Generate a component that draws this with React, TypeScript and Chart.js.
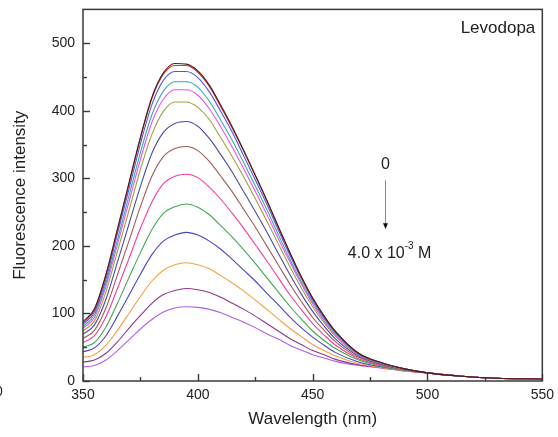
import React, { useEffect, useRef } from "react";
import { Chart, registerables } from "chart.js";

Chart.register(...registerables);

// ---- data ----
const WAVELENGTHS = [350, 355, 360, 365, 370, 375, 380, 385, 390, 395, 400, 405, 410, 415, 420, 425, 430, 435, 440, 445, 450, 455, 460, 470, 480, 490, 500, 515, 530, 550];

const C1 = [88, 107, 158, 225, 293, 361, 420, 456, 470, 469, 459, 438, 408, 376, 341, 305, 268, 229, 191, 155, 123, 96, 73, 41, 27, 18, 12, 7, 4, 3];
const C2 = [86, 105, 156, 223, 291, 359, 418, 454, 467, 467, 457, 436, 406, 374, 340, 304, 267, 228, 190, 154, 122, 96, 73, 41, 27, 18, 12, 7, 4, 3];
const C3 = [84, 102, 151, 218, 284, 351, 409, 445, 458, 458, 449, 428, 399, 368, 333, 298, 262, 224, 187, 152, 120, 94, 72, 40, 27, 18, 12, 7, 4, 3];
const C4 = [81, 98, 145, 209, 274, 338, 394, 429, 443, 443, 435, 414, 386, 356, 323, 289, 254, 217, 181, 147, 117, 92, 70, 40, 26, 18, 12, 7, 4, 3];
const C5 = [78, 94, 140, 202, 265, 328, 383, 417, 431, 431, 423, 403, 376, 346, 314, 281, 247, 211, 177, 144, 114, 89, 68, 39, 26, 18, 12, 7, 4, 3];
const C6 = [74, 89, 132, 192, 252, 313, 365, 399, 413, 413, 405, 387, 360, 332, 302, 270, 237, 203, 170, 138, 110, 86, 66, 38, 26, 17, 12, 7, 4, 3];
const C7 = [69, 83, 121, 176, 232, 288, 337, 368, 381, 384, 377, 359, 335, 309, 280, 251, 221, 189, 158, 129, 103, 81, 62, 37, 25, 17, 12, 7, 4, 3];
const C8 = [63, 75, 108, 157, 207, 258, 303, 332, 344, 347, 341, 325, 303, 280, 254, 228, 200, 172, 144, 118, 94, 75, 58, 35, 24, 17, 12, 7, 4, 3];
const C9 = [57, 67, 95, 137, 181, 226, 265, 292, 303, 306, 301, 287, 269, 248, 226, 202, 178, 153, 128, 106, 85, 68, 53, 33, 23, 17, 12, 7, 4, 3];
const C10 = [50, 57, 80, 115, 153, 190, 224, 248, 258, 262, 257, 246, 230, 213, 194, 174, 153, 132, 111, 92, 74, 60, 48, 31, 22, 16, 12, 7, 4, 3];
const C11 = [43, 49, 67, 96, 127, 158, 187, 207, 216, 220, 216, 207, 195, 180, 164, 148, 130, 113, 95, 79, 65, 53, 42, 28, 21, 16, 12, 7, 4, 3];
const C12 = [35, 39, 53, 75, 100, 125, 148, 164, 172, 175, 172, 166, 156, 145, 133, 120, 106, 92, 78, 66, 54, 45, 37, 26, 20, 15, 12, 7, 4, 3];
const C13 = [28, 31, 41, 58, 78, 97, 115, 128, 134, 137, 135, 131, 124, 115, 106, 96, 85, 74, 63, 54, 45, 39, 32, 24, 20, 15, 12, 7, 4, 3];
const C14 = [21, 23, 31, 45, 61, 77, 91, 102, 108, 110, 109, 106, 101, 94, 87, 79, 70, 62, 53, 46, 39, 34, 29, 23, 19, 15, 12, 7, 4, 3];

const SERIES = [C1, C2, C3, C4, C5, C6, C7, C8, C9, C10, C11, C12, C13, C14];
const SERIES_COLORS = [
  "#4a1c1c", "#e03030", "#4a5ae0", "#3aa8b0", "#f050f0", "#a0a040", "#4a4aa0",
  "#a05a5a", "#f0409a", "#40a850", "#4848c0", "#f5a040", "#8a3a8a", "#b060e8",
];

const X_MIN = 350;
const X_MAX = 550;
const X_STEP = 50;
const Y_MIN = 0;
const Y_MAX = 550;
const Y_STEP = 100;

const X_TITLE = "Wavelength (nm)";
const Y_TITLE = "Fluorescence intensity";
const SAMPLE_LABEL = "Levodopa";
const ARROW_START_LABEL = "0";
const ARROW_END_MAIN = "4.0 x 10";
const ARROW_END_SUP = "-3";
const ARROW_END_UNIT = " M";

const FONT = '"Liberation Sans", Arial, Helvetica, sans-serif';
const TEXT_COLOR = "#222";
const AXIS_COLOR = "#3a3a3a";

const CANVAS_W = 560;
const CANVAS_H = 444;
const CANVAS_SHIFT_Y = -7;

const decorPlugin = {
  id: "decor",
  afterDatasetsDraw(chart: any) {
    const { ctx, chartArea: a, scales } = chart;
    const xs = scales.x;
    const ys = scales.y;
    ctx.save();
    // frame
    ctx.strokeStyle = AXIS_COLOR;
    ctx.lineWidth = 1.5;
    ctx.strokeRect(a.left, a.top, a.right - a.left, a.bottom - a.top);
    // inward ticks
    ctx.lineWidth = 1.4;
    for (let v = X_MIN; v <= X_MAX; v += X_STEP / 2) {
      const px = Math.round(xs.getPixelForValue(v)) + 0.5;
      const len = v % X_STEP === 0 ? 7 : 4;
      ctx.beginPath();
      ctx.moveTo(px, a.bottom);
      ctx.lineTo(px, a.bottom - len);
      ctx.stroke();
    }
    for (let v = Y_MIN; v < Y_MAX; v += Y_STEP / 2) {
      const py = Math.round(ys.getPixelForValue(v)) + 0.5;
      const len = v % Y_STEP === 0 ? 7 : 4;
      ctx.beginPath();
      ctx.moveTo(a.left, py);
      ctx.lineTo(a.left + len, py);
      ctx.stroke();
    }
    // sample label
    ctx.fillStyle = TEXT_COLOR;
    ctx.font = `17px ${FONT}`;
    ctx.textAlign = "right";
    ctx.textBaseline = "middle";
    ctx.fillText(SAMPLE_LABEL, a.right - 7, a.top + 19);

    // arrow annotation
    ctx.font = `16px ${FONT}`;
    const ax = Math.round(xs.getPixelForValue(481.5)) + 0.5;
    ctx.textAlign = "center";
    ctx.fillText(ARROW_START_LABEL, ax, ys.getPixelForValue(321));
    const y1 = ys.getPixelForValue(297);
    const y2 = ys.getPixelForValue(232);
    const tip = ys.getPixelForValue(225);
    ctx.strokeStyle = "#888";
    ctx.lineWidth = 1;
    ctx.beginPath();
    ctx.moveTo(ax, y1);
    ctx.lineTo(ax, y2);
    ctx.stroke();
    ctx.fillStyle = "#111";
    ctx.beginPath();
    ctx.moveTo(ax - 2.5, y2 - 1);
    ctx.lineTo(ax + 2.5, y2 - 1);
    ctx.lineTo(ax, tip);
    ctx.closePath();
    ctx.fill();

    // concentration text with superscript
    ctx.fillStyle = TEXT_COLOR;
    const cy = ys.getPixelForValue(189);
    ctx.font = `16px ${FONT}`;
    const w1 = ctx.measureText(ARROW_END_MAIN).width;
    const w3 = ctx.measureText(ARROW_END_UNIT).width;
    ctx.font = `10px ${FONT}`;
    const w2 = ctx.measureText(ARROW_END_SUP).width;
    const total = w1 + w2 + w3;
    let sx = xs.getPixelForValue(483.5) - total / 2;
    ctx.textAlign = "left";
    ctx.font = `16px ${FONT}`;
    ctx.fillText(ARROW_END_MAIN, sx, cy);
    sx += w1;
    ctx.font = `10px ${FONT}`;
    ctx.fillText(ARROW_END_SUP, sx, cy - 7);
    sx += w2;
    ctx.font = `16px ${FONT}`;
    ctx.fillText(ARROW_END_UNIT, sx, cy);

    // clipped glyph at the left edge of the picture
    ctx.font = `14px ${FONT}`;
    ctx.textAlign = "center";
    ctx.fillText("0", -1, 392 - CANVAS_SHIFT_Y);
    ctx.restore();
  },
};

export default function App() {
  const canvasRef = useRef<HTMLCanvasElement | null>(null);

  useEffect(() => {
    document.body.style.margin = "0";
    const canvas = canvasRef.current;
    if (!canvas) return;
    const datasets = SERIES.map((vals, i) => ({
      label: `c${i + 1}`,
      data: vals.map((v, j) => ({ x: WAVELENGTHS[j], y: v })),
      borderColor: SERIES_COLORS[i],
      backgroundColor: SERIES_COLORS[i],
      borderWidth: 1.1,
      pointRadius: 0,
      fill: false,
      cubicInterpolationMode: "monotone" as const,
    }));
    const chart = new Chart(canvas, {
      type: "line",
      data: { datasets },
      plugins: [decorPlugin],
      options: {
        animation: false,
        responsive: false,
        devicePixelRatio: 1,
        layout: { padding: { top: 2, right: 14, left: 0, bottom: 0 } },
        plugins: {
          legend: { display: false },
          tooltip: { enabled: false },
        },
        scales: {
          x: {
            type: "linear",
            min: X_MIN,
            max: X_MAX,
            afterBuildTicks: (s: any) => {
              s.ticks = s.ticks.filter((t: any) => t.value % X_STEP === 0);
            },
            afterFit: (s: any) => {
              s.height = 56;
            },
            ticks: {
              stepSize: X_STEP,
              padding: 6,
              color: TEXT_COLOR,
              font: { family: FONT, size: 14 },
              maxRotation: 0,
            },
            grid: { display: false, drawTicks: false },
            border: { display: false },
            title: {
              display: true,
              text: X_TITLE,
              color: TEXT_COLOR,
              font: { family: FONT, size: 17, lineHeight: 1.2 },
              padding: { top: 0, bottom: 7 },
            },
          },
          y: {
            type: "linear",
            min: Y_MIN,
            max: Y_MAX,
            afterBuildTicks: (s: any) => {
              s.ticks = s.ticks.filter((t: any) => t.value % Y_STEP === 0);
            },
            afterFit: (s: any) => {
              s.width = 83;
            },
            ticks: {
              stepSize: Y_STEP,
              padding: 8,
              color: TEXT_COLOR,
              font: { family: FONT, size: 14 },
            },
            grid: { display: false, drawTicks: false },
            border: { display: false },
            title: {
              display: true,
              text: Y_TITLE,
              color: TEXT_COLOR,
              font: { family: FONT, size: 17, lineHeight: 1.2 },
              padding: { top: 10, bottom: 0 },
            },
          },
        },
      },
    });
    return () => chart.destroy();
  }, []);

  return (
    <div style={{ width: 558, height: 437, background: "#fff", overflow: "hidden", position: "relative" }}>
      <canvas
        ref={canvasRef}
        width={CANVAS_W}
        height={CANVAS_H}
        style={{ display: "block", position: "absolute", left: 0, top: CANVAS_SHIFT_Y }}
      />
    </div>
  );
}
